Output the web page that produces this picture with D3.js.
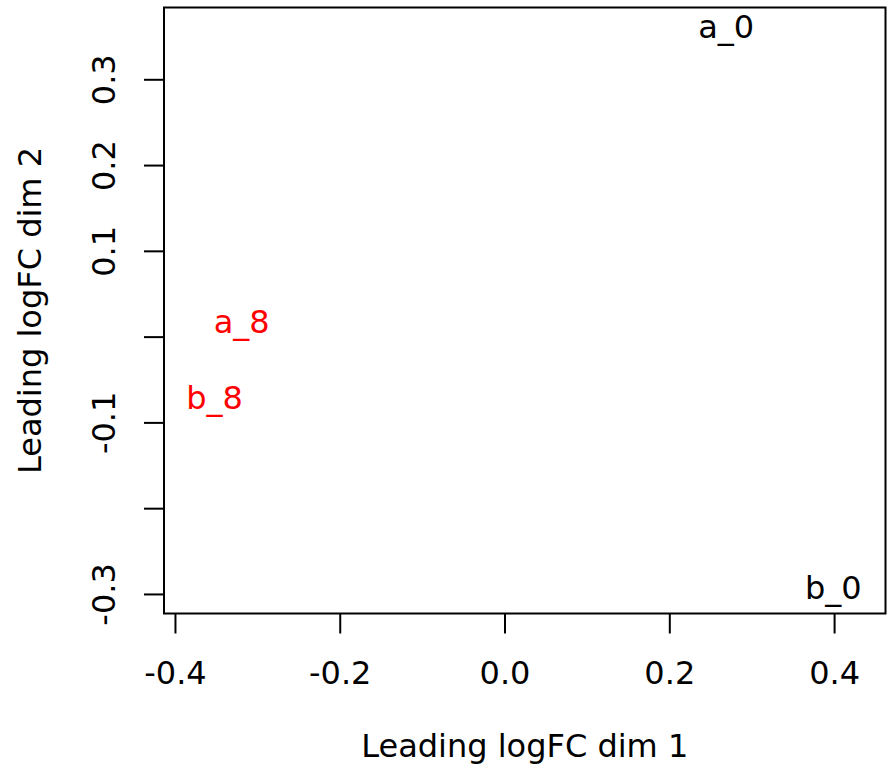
<!DOCTYPE html>
<html>
<head>
<meta charset="utf-8">
<script src="https://cdn.jsdelivr.net/npm/d3@7"></script>
<style>
  body { margin: 0; background: #fff; }
  svg text { font-family: "DejaVu Sans", sans-serif; }
</style>
</head>
<body>
<svg id="chart" width="888" height="766"></svg>
<script>
// sample labels and their MDS coordinates
var samples = ["a_0", "b_0", "a_8", "b_8"];
var dim1 = [0.269, 0.399, -0.319, -0.352];
var dim2 = [0.360, -0.294, 0.016, -0.072];
var groupColors = ["black", "black", "red", "red"];

var xTicks = [-0.4, -0.2, 0.0, 0.2, 0.4];
var xTickLabels = ["-0.4", "-0.2", "0.0", "0.2", "0.4"];
var yTicks = [-0.3, -0.2, -0.1, 0.0, 0.1, 0.2, 0.3];
var yTickLabels = ["-0.3", "", "-0.1", "", "0.1", "0.2", "0.3"];

var plotLeft = 164, plotRight = 885.5, plotTop = 7.5, plotBottom = 613.5;
var fontSize = 32;

var svg = d3.select("#chart");

var x = d3.scaleLinear().domain([-0.4133, 0.4624]).range([plotLeft, plotRight]);
var y = d3.scaleLinear().domain([-0.3228, 0.3837]).range([plotBottom, plotTop]);

// x axis
var xAxis = svg.append("g")
    .attr("transform", "translate(0," + plotBottom + ")")
    .call(d3.axisBottom(x)
        .tickValues(xTicks)
        .tickSize(20)
        .tickSizeOuter(0)
        .tickFormat(function(d, i) { return xTickLabels[i]; }));
xAxis.select(".domain").remove();
xAxis.selectAll(".tick line").attr("stroke", "#000").attr("stroke-width", 2);
xAxis.selectAll(".tick text")
    .attr("y", 70.5)
    .attr("dy", 0)
    .attr("fill", "#000")
    .attr("font-size", fontSize)
    .attr("font-family", "DejaVu Sans");

// y axis
var yAxis = svg.append("g")
    .attr("transform", "translate(" + plotLeft + ",0)")
    .call(d3.axisLeft(y)
        .tickValues(yTicks)
        .tickSize(20)
        .tickSizeOuter(0)
        .tickFormat(function(d, i) { return yTickLabels[i]; }));
yAxis.select(".domain").remove();
yAxis.selectAll(".tick line").attr("stroke", "#000").attr("stroke-width", 2);
yAxis.selectAll(".tick text")
    .attr("x", 0)
    .attr("dy", 0)
    .attr("transform", "translate(-49,0) rotate(-90)")
    .attr("text-anchor", "middle")
    .attr("fill", "#000")
    .attr("font-size", fontSize)
    .attr("font-family", "DejaVu Sans");

// plot box
svg.append("rect")
    .attr("x", plotLeft)
    .attr("y", plotTop)
    .attr("width", plotRight - plotLeft)
    .attr("height", plotBottom - plotTop)
    .attr("fill", "none")
    .attr("stroke", "#000")
    .attr("stroke-width", 2);

// sample labels
svg.selectAll("text.sample")
    .data(samples)
    .enter()
    .append("text")
    .attr("class", "sample")
    .attr("x", function(d, i) { return x(dim1[i]); })
    .attr("y", function(d, i) { return y(dim2[i]) + 10.5; })
    .attr("text-anchor", "middle")
    .attr("font-size", fontSize)
    .attr("fill", function(d, i) { return groupColors[i]; })
    .text(function(d) { return d; });

// axis titles
svg.append("text")
    .attr("x", (plotLeft + plotRight) / 2)
    .attr("y", 757)
    .attr("text-anchor", "middle")
    .attr("font-size", fontSize)
    .text("Leading logFC dim 1");

svg.append("text")
    .attr("transform", "translate(41," + ((plotTop + plotBottom) / 2) + ") rotate(-90)")
    .attr("text-anchor", "middle")
    .attr("font-size", fontSize)
    .text("Leading logFC dim 2");
</script>
</body>
</html>
